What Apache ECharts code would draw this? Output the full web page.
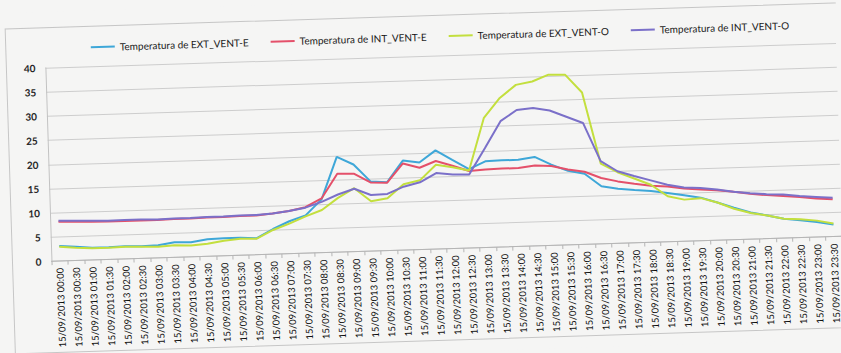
<!DOCTYPE html>
<html>
<head>
<meta charset="utf-8">
<script src="https://cdn.jsdelivr.net/npm/echarts@6/dist/echarts.min.js"></script>
<style>
  html, body { margin: 0; padding: 0; background: #f5f5f4; overflow: hidden; }
  /* the sheet sits slightly tilted on the page */
  #chart { width: 841px; height: 353px; transform: rotate(-1.8deg); }
</style>
</head>
<body>
<div id="chart"></div>
<script>
// half-hourly readings, 15/09/2013
const categories = [
  '15/09/2013 00:00','15/09/2013 00:30','15/09/2013 01:00','15/09/2013 01:30',
  '15/09/2013 02:00','15/09/2013 02:30','15/09/2013 03:00','15/09/2013 03:30',
  '15/09/2013 04:00','15/09/2013 04:30','15/09/2013 05:00','15/09/2013 05:30',
  '15/09/2013 06:00','15/09/2013 06:30','15/09/2013 07:00','15/09/2013 07:30',
  '15/09/2013 08:00','15/09/2013 08:30','15/09/2013 09:00','15/09/2013 09:30',
  '15/09/2013 10:00','15/09/2013 10:30','15/09/2013 11:00','15/09/2013 11:30',
  '15/09/2013 12:00','15/09/2013 12:30','15/09/2013 13:00','15/09/2013 13:30',
  '15/09/2013 14:00','15/09/2013 14:30','15/09/2013 15:00','15/09/2013 15:30',
  '15/09/2013 16:00','15/09/2013 16:30','15/09/2013 17:00','15/09/2013 17:30',
  '15/09/2013 18:00','15/09/2013 18:30','15/09/2013 19:00','15/09/2013 19:30',
  '15/09/2013 20:00','15/09/2013 20:30','15/09/2013 21:00','15/09/2013 21:30',
  '15/09/2013 22:00','15/09/2013 22:30','15/09/2013 23:00','15/09/2013 23:30'
];

const seriesNames = [
  'Temperatura de EXT_VENT-E',
  'Temperatura de INT_VENT-E',
  'Temperatura de EXT_VENT-O',
  'Temperatura de INT_VENT-O'
];

const extVentE = [3.1, 2.8, 2.5, 2.5, 2.6, 2.5, 2.6, 3.1, 3.0, 3.5, 3.6, 3.6,
  3.4, 5.2, 6.7, 7.8, 11.0, 19.7, 18.0, 14.4, 14.1, 18.5, 18.0, 20.4,
  18.3, 16.3, 17.8, 17.9, 17.9, 18.4, 16.7, 15.3, 14.6, 11.9, 11.3, 10.9,
  10.6, 10.1, 9.5, 8.9, 7.8, 6.6, 5.5, 4.8, 4.0, 3.6, 3.1, 2.5];

const intVentE = [8.1, 8.0, 7.9, 7.8, 7.8, 7.8, 7.8, 7.9, 7.9, 8.0, 8.0, 8.1,
  8.1, 8.4, 8.8, 9.5, 11.2, 16.2, 16.1, 14.2, 14.0, 17.9, 16.9, 18.2,
  17.1, 15.9, 16.1, 16.2, 16.2, 16.6, 16.4, 15.6, 15.0, 13.6, 12.8, 12.2,
  11.7, 11.4, 10.9, 10.6, 10.3, 9.9, 9.4, 9.0, 8.7, 8.4, 8.0, 7.7];

const extVentO = [2.9, 2.6, 2.4, 2.4, 2.5, 2.4, 2.3, 2.5, 2.3, 2.6, 3.1, 3.4,
  3.3, 5.0, 6.2, 7.6, 8.8, 11.2, 13.1, 10.3, 10.8, 13.6, 14.3, 17.4,
  16.8, 16.0, 26.8, 30.8, 33.4, 34.0, 35.3, 35.2, 31.4, 16.6, 14.7, 13.3,
  11.9, 9.4, 8.6, 8.8, 7.8, 6.4, 5.4, 4.8, 4.0, 3.8, 3.4, 2.7];

const intVentO = [8.3, 8.2, 8.1, 8.0, 8.0, 8.0, 7.9, 8.0, 8.0, 8.1, 8.1, 8.2,
  8.2, 8.4, 8.8, 9.4, 10.5, 11.9, 13.0, 11.6, 11.7, 13.1, 13.9, 15.7,
  15.3, 15.2, 20.5, 26.0, 28.2, 28.5, 27.9, 26.5, 25.1, 17.1, 14.9, 13.8,
  12.8, 11.8, 11.1, 10.9, 10.5, 9.9, 9.5, 9.2, 9.0, 8.6, 8.3, 8.0];

const yTicks = { min: 0, max: 40, interval: 5 };

const colors = ['#3ea7d8', '#e4506a', '#c3df3e', '#7b70c9'];
const values = [extVentE, intVentE, extVentO, intVentO];

const FONT = 'Lato, "Liberation Sans", sans-serif';

const chart = echarts.init(document.getElementById('chart'), null, { renderer: 'svg' });

chart.setOption({
  backgroundColor: '#f5f5f4',
  animation: false,
  color: colors,
  graphic: [{
    type: 'rect',
    silent: true,
    shape: { x: 10, y: 16, width: 900, height: 325 },
    style: { fill: 'none', stroke: '#c6c6c6', lineWidth: 1 }
  }],
  legend: {
    top: 27,
    left: 90,
    itemGap: 22,
    itemWidth: 24,
    itemHeight: 2,
    icon: 'rect',
    textStyle: { fontFamily: FONT, fontSize: 10, color: '#1a1a1a' },
    data: seriesNames
  },
  grid: { left: 49, right: 1, top: 56, bottom: 103.5, containLabel: false },
  xAxis: {
    type: 'category',
    boundaryGap: true,
    data: categories,
    axisLine: { lineStyle: { color: '#b5b5b5', width: 1 } },
    axisTick: { show: true, length: 4, lineStyle: { color: '#b5b5b5' } },
    axisLabel: {
      interval: 0,
      rotate: 90,
      margin: 7,
      fontFamily: FONT,
      fontSize: 9.5,
      color: '#0e0e0e'
    }
  },
  yAxis: {
    type: 'value',
    min: yTicks.min,
    max: yTicks.max,
    interval: yTicks.interval,
    axisLine: { show: true, lineStyle: { color: '#c2c2c2' } },
    axisTick: { show: false },
    axisLabel: { margin: 10, fontFamily: FONT, fontSize: 10, fontWeight: 'bold', color: '#262626' },
    splitLine: { lineStyle: { color: '#cdcdcd', width: 1 } }
  },
  series: seriesNames.map((name, i) => ({
    name: name,
    type: 'line',
    data: values[i],
    symbol: 'none',
    lineStyle: { width: 2, color: colors[i] },
    itemStyle: { color: colors[i] }
  }))
});
</script>
</body>
</html>
